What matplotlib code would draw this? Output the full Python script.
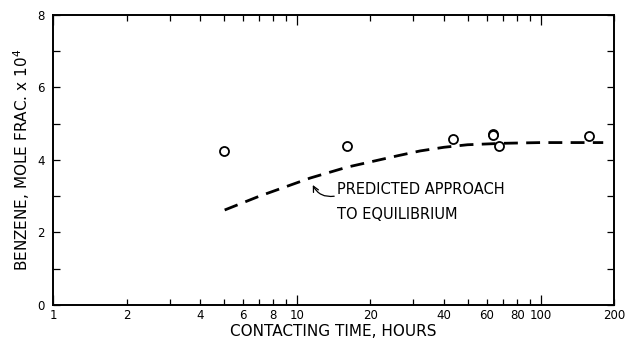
import matplotlib
matplotlib.use("Agg")
import matplotlib.pyplot as plt
from matplotlib.ticker import FixedLocator, FixedFormatter, NullFormatter

# Data
obs_time = [5.0, 16.0, 43.5, 63.5, 63.5, 67.0, 157.0]
obs_benzene = [4.25, 4.39, 4.58, 4.72, 4.68, 4.39, 4.66]

pred_time = [5.05, 7.0, 11.3, 16.0, 26.0, 32.0, 40.0, 50.0, 70.0, 100.0, 180.0]
pred_benzene = [2.62, 3.0, 3.5, 3.8, 4.12, 4.25, 4.35, 4.42, 4.46, 4.48, 4.48]

x_major = [1, 10, 100]
x_major_labels = ["1", "10", "100"]
x_minor = [2, 3, 4, 5, 6, 7, 8, 9, 20, 30, 40, 50, 60, 70, 80, 90, 200]
x_minor_labels = ["2", "", "4", "", "6", "", "8", "", "20", "", "40", "", "60", "", "80", "", "200"]
y_major = [0, 2, 4, 6, 8]
y_minor = [1, 3, 5, 7]

plt.rcParams['font.family'] = ['DejaVu Sans']

fig = plt.figure(figsize=(6.25, 3.4), dpi=100)
ax = fig.add_axes([0.085, 0.103, 0.898, 0.853])

ax.plot(pred_time, pred_benzene, color='black', lw=2.0, linestyle=(0, (5, 3)))
ax.plot(obs_time, obs_benzene, linestyle='none', marker='o', markersize=6.5,
        markerfacecolor='white', markeredgecolor='black', markeredgewidth=1.3)

ax.set_xscale('log')
ax.set_xlim(1, 200)
ax.set_ylim(0, 8)

ax.xaxis.set_major_locator(FixedLocator(x_major))
ax.xaxis.set_major_formatter(FixedFormatter(x_major_labels))
ax.xaxis.set_minor_locator(FixedLocator(x_minor))
ax.xaxis.set_minor_formatter(FixedFormatter(x_minor_labels))
ax.yaxis.set_major_locator(FixedLocator(y_major))
ax.yaxis.set_minor_locator(FixedLocator(y_minor))
ax.yaxis.set_minor_formatter(NullFormatter())

ax.tick_params(axis='both', which='both', direction='in', top=True, right=True,
               labelsize=8.5, width=0.9, colors='black')
ax.tick_params(axis='x', which='major', length=7, pad=3)
ax.tick_params(axis='x', which='minor', length=4, pad=3)
ax.tick_params(axis='y', which='major', length=5, pad=6)
ax.tick_params(axis='y', which='minor', length=5)

for s in ax.spines.values():
    s.set_linewidth(1.4)

ax.set_xlabel("CONTACTING TIME, HOURS", fontsize=11, labelpad=1)
ax.set_ylabel("BENZENE, MOLE FRAC. x 10$^4$", fontsize=11, labelpad=4)

ax.text(14.6, 2.84, "PREDICTED APPROACH\nTO EQUILIBRIUM", fontsize=10.5,
        ha='left', va='center', linespacing=1.9)
ax.annotate("", xy=(11.6, 3.31), xytext=(14.2, 3.0),
            arrowprops=dict(arrowstyle='->', color='black', lw=0.9,
                            connectionstyle='arc3,rad=-0.35', shrinkA=0, shrinkB=0))

fig.savefig("out.png", dpi=100)
